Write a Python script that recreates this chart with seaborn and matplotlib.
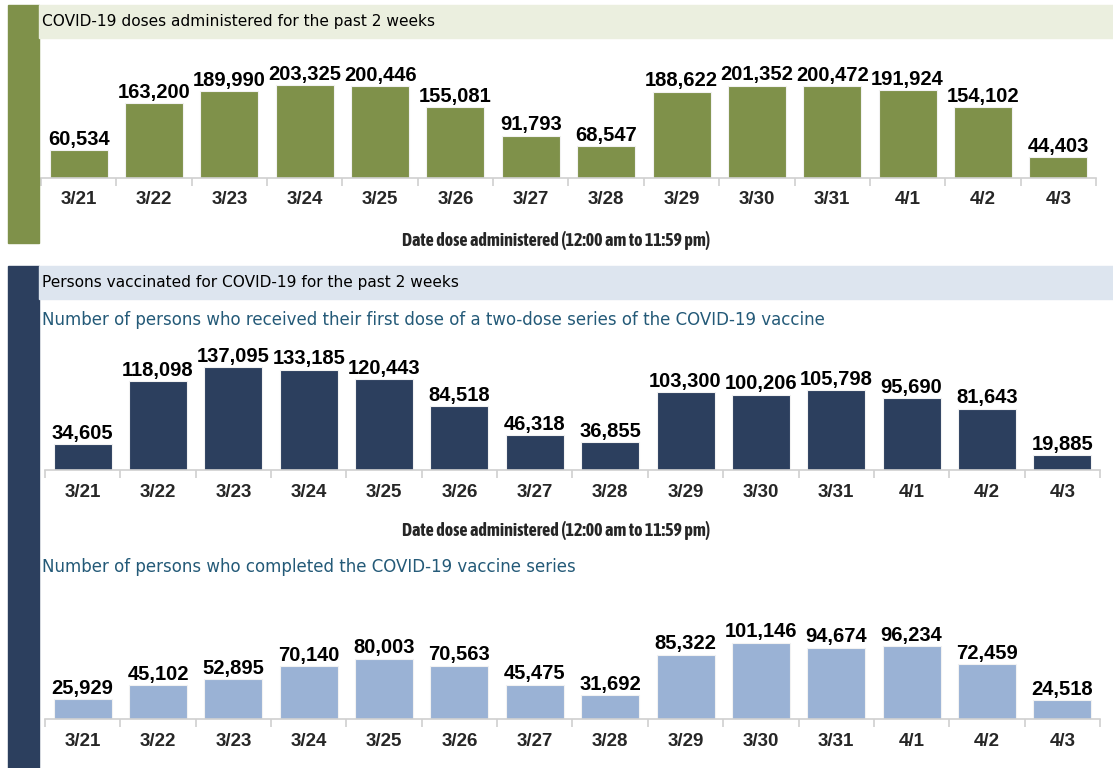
import numpy as np
import pandas as pd
import matplotlib
matplotlib.use("Agg")
import matplotlib.pyplot as plt
from matplotlib.patches import Rectangle
from matplotlib import font_manager
import seaborn as sns

# ---------------- data ----------------
dates = ["3/21", "3/22", "3/23", "3/24", "3/25", "3/26", "3/27",
         "3/28", "3/29", "3/30", "3/31", "4/1", "4/2", "4/3"]
doses_administered = [60534, 163200, 189990, 203325, 200446, 155081, 91793,
                      68547, 188622, 201352, 200472, 191924, 154102, 44403]
first_dose = [34605, 118098, 137095, 133185, 120443, 84518, 46318,
              36855, 103300, 100206, 105798, 95690, 81643, 19885]
completed_series = [25929, 45102, 52895, 70140, 80003, 70563, 45475,
                    31692, 85322, 101146, 94674, 96234, 72459, 24518]

title_doses = "COVID-19 doses administered for the past 2 weeks"
title_persons = "Persons vaccinated for COVID-19 for the past 2 weeks"
sub_first = "Number of persons who received their first dose of a two-dose series of the COVID-19 vaccine"
sub_complete = "Number of persons who completed the COVID-19 vaccine series"
xlabel_text = "Date dose administered (12:00 am to 11:59 pm)"

# ---------------- style ----------------
sns.set_theme(style="white")
plt.rcParams["font.family"] = ["Liberation Sans", "DejaVu Sans"]


def _wt(f):
    w = f.weight
    if isinstance(w, str):
        return {"bold": 700, "semibold": 600, "demibold": 600, "heavy": 800,
                "black": 900, "extra bold": 800}.get(w.lower(), 400)
    return int(w)


# pick a bold condensed face for the axis caption if one is installed
cands = []
for f in font_manager.fontManager.ttflist:
    name = f.name.lower()
    cond = ("narrow" in name or "condensed" in name or
            str(f.stretch) in ("condensed", "semi-condensed", "extra-condensed"))
    if cond and _wt(f) >= 600:
        if "liberation" in name:
            pref = 0
        elif "dejavu" in name:
            pref = 3
        else:
            pref = 1 if _wt(f) <= 700 else 2
        cands.append((pref, f.fname, f))
cands.sort(key=lambda c: (c[0], c[1]))
if cands:
    cap_font = font_manager.FontProperties(fname=cands[0][2].fname)
else:
    cap_font = font_manager.FontProperties(family="Liberation Sans", weight="bold")

GREEN = "#7f914a"
NAVY = "#2c3f5e"
LIGHTBLUE = "#9ab2d5"
GREEN_BAND = "#ebefdf"
BLUE_BAND = "#dde5ef"
TEAL = "#245a78"
AXIS_GRAY = "#d0d0d0"

W, H = 1113, 768
fig = plt.figure(figsize=(W / 100, H / 100), dpi=100)


def fx(px):
    return px / W


def fy(py):
    return 1 - py / H


def add_rect(x0, y0, x1, y1, color):
    fig.patches.append(Rectangle((fx(x0), fy(y1)), fx(x1 - x0), (y1 - y0) / H,
                                 transform=fig.transFigure, color=color, zorder=0))


# side bars and header bands
add_rect(8, 5, 39, 243, GREEN)
add_rect(8, 266, 39, 768, NAVY)
add_rect(39, 5, W, 38, GREEN_BAND)
add_rect(39, 266, W, 299, BLUE_BAND)

fig.text(fx(42), fy(21.5), title_doses, fontsize=11.1, color="black",
         va="center", ha="left", family=["DejaVu Sans"])
fig.text(fx(42), fy(283), title_persons, fontsize=11.1, color="black",
         va="center", ha="left", family=["DejaVu Sans"])
fig.text(fx(42), fy(320), sub_first, fontsize=12, color=TEAL,
         va="center", ha="left", family=["DejaVu Sans"])
fig.text(fx(42), fy(567), sub_complete, fontsize=12, color=TEAL,
         va="center", ha="left", family=["DejaVu Sans"])

renderer = fig.canvas.get_renderer()
caps = []
for ypx in (240, 531):
    t = fig.text(fx(556), fy(ypx), xlabel_text, fontproperties=cap_font,
                 va="center", ha="center")
    t.set_fontsize(10.5)
    caps.append(t)
wpx = caps[0].get_window_extent(renderer).width
size = min(13.0, 10.5 * 314 / wpx)
for t in caps:
    t.set_fontsize(size)


def panel(values, color, left_px, base_px, top_px, px_per_unit):
    ax = fig.add_axes([fx(left_px), fy(base_px), fx(1055), (base_px - top_px) / H])
    df = pd.DataFrame({"date": dates, "value": values})
    sns.barplot(data=df, x="date", y="value", color=color, width=0.77,
                saturation=1, edgecolor="#f2f2f2", linewidth=0.8, ax=ax)
    ax.set_xlim(-0.5, len(dates) - 0.5)
    ax.set_ylim(0, (base_px - top_px) / px_per_unit)
    ax.bar_label(ax.containers[0], labels=[f"{v:,}" for v in values],
                 padding=1, fontsize=14.5, fontweight="bold", color="black")
    for s in ["top", "right", "left"]:
        ax.spines[s].set_visible(False)
    ax.spines["bottom"].set_color(AXIS_GRAY)
    ax.spines["bottom"].set_linewidth(1.2)
    ax.set_yticks([])
    ax.set_xlabel("")
    ax.set_ylabel("")
    ax.set_xticks(np.arange(-0.5, len(dates), 1), minor=True)
    ax.tick_params(axis="x", which="minor", bottom=True, length=6, width=1.2,
                   color=AXIS_GRAY)
    ax.tick_params(axis="x", which="major", length=0, pad=10, labelsize=13.5)
    for t in ax.get_xticklabels():
        t.set_fontweight("bold")
    ax.patch.set_alpha(0)
    return ax


panel(doses_administered, GREEN, 41, 177.5, 45, 0.000455)
panel(first_dose, NAVY, 45, 470, 335, 0.000752)
panel(completed_series, LIGHTBLUE, 45, 719, 585, 0.000755)

fig.savefig("out.png", dpi=100)
